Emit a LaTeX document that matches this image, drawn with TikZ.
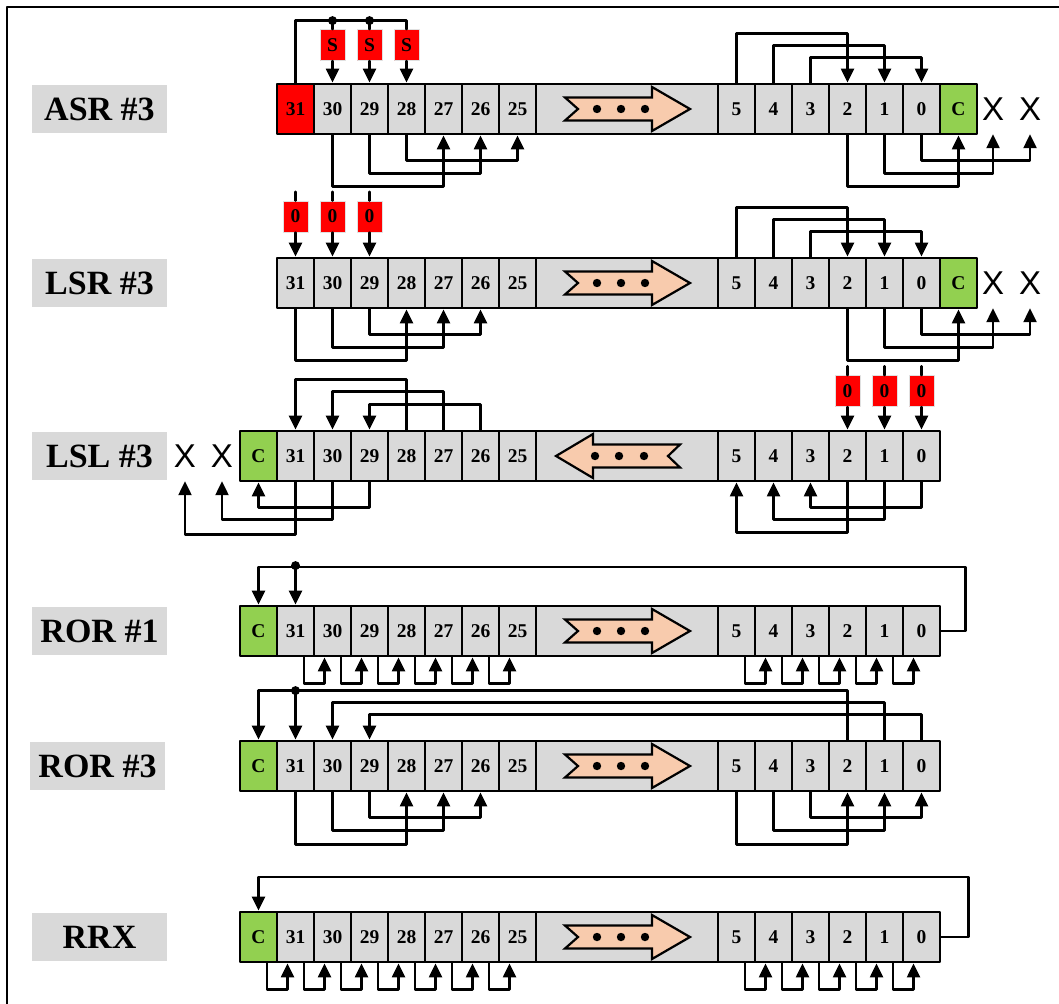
\documentclass[tikz,border=0pt]{standalone}
\usepackage{xcolor}
\usepackage{fontspec}
\setmainfont{Liberation Serif}
\newfontfamily\markfont{Liberation Sans}
\usepackage{tikz}
\usetikzlibrary{
    arrows.meta,
    calc
}
\definecolor{ink}      {HTML}{000000}
\definecolor{cellgrey} {HTML}{D9D9D9}
\definecolor{labelgrey}{HTML}{D9D9D9}
\definecolor{bitred}   {HTML}{FF0000}
\definecolor{carry}    {HTML}{92D050}
\definecolor{peach}    {HTML}{F8CBAD}

\begin{document}
\begin{tikzpicture}[
    x=1pt, y=-1pt,
    line cap=round, line join=round,
    >={Triangle[length=14pt, width=13pt]},
    %% --- semantic styles ---
    cell/.style        = {rectangle, draw=ink, fill=cellgrey, line width=2.8pt,
                          minimum width=37pt, minimum height=50pt, inner sep=0pt,
                          font=\bfseries\fontsize{19.5}{19.5}\selectfont},
    regbar/.style      = {rectangle, draw=ink, fill=cellgrey, line width=1.3pt,
                          minimum width=182pt, minimum height=50pt, inner sep=0pt},
    fillbox/.style     = {rectangle, fill=bitred, draw=black!12, line width=0.8pt,
                          minimum width=25pt, minimum height=31pt, inner sep=0pt,
                          font=\bfseries\fontsize{19.5}{19.5}\selectfont},
    oplabel/.style     = {rectangle, fill=labelgrey, minimum width=135pt,
                          minimum height=48pt, inner sep=0pt,
                          font=\bfseries\fontsize{34}{34}\selectfont},
    lostbit/.style     = {minimum height=50pt, inner sep=0pt,
                          font=\markfont\fontsize{33}{33}\selectfont},
    wire/.style        = {draw=ink, line width=2.3pt},
    flow/.style        = {wire, ->},
    shiftarrow/.style  = {draw=ink, fill=peach, line width=2.2pt, line join=miter}
]
\useasboundingbox (0,0) rectangle (1059,1003);
\clip (0,0) rectangle (1059,1003);
\draw[line width=2pt] (7,1010) -- (7,7) -- (1070,7);

%% =====================================================
%% Registers -- six rows of bit cells
%% =====================================================
\foreach \reg/\yy/\topfill in {asr/109/bitred, lsr/283/cellgrey, lsl/456/cellgrey,
                               rori/631/cellgrey, roriii/766/cellgrey, rrx/937/cellgrey} {
    \node[regbar] (\reg-bar) at (627,\yy) {};
    \node[cell, fill=\topfill] (\reg31) at (295.5,\yy) {31};
    \foreach \k in {30,...,25}
        \node[cell] (\reg\k) at ({295.5+(31-\k)*37},\yy) {\k};
    \foreach \k in {5,...,0}
        \node[cell] (\reg\k) at ({736.5+(5-\k)*37},\yy) {\k};
}

% Operation labels
\node[oplabel] (asr-lbl)    at (99.5,109) {ASR \#3};
\node[oplabel] (lsr-lbl)    at (99.5,283) {LSR \#3};
\node[oplabel] (lsl-lbl)    at (99.5,456) {LSL \#3};
\node[oplabel] (rori-lbl)   at (99.5,631) {ROR \#1};
\node[oplabel] (roriii-lbl) at (97.5,766) {ROR \#3};
\node[oplabel] (rrx-lbl)    at (99.5,937) {RRX};

% Carry flags
\node[cell, fill=carry] (asrC)    at (958.5,109) {C};
\node[cell, fill=carry] (lsrC)    at (958.5,283) {C};
\node[cell, fill=carry] (lslC)    at (258.5,456) {C};
\node[cell, fill=carry] (roriC)   at (258.5,631) {C};
\node[cell, fill=carry] (roriiiC) at (258.5,766) {C};
\node[cell, fill=carry] (rrxC)    at (258.5,937) {C};

% Discarded bits
\node[lostbit] (asr-x1) at (993,109)  {X};
\node[lostbit] (asr-x2) at (1030,109) {X};
\node[lostbit] (lsr-x1) at (993,283)  {X};
\node[lostbit] (lsr-x2) at (1030,283) {X};
\node[lostbit] (lsl-x1) at (185,456)  {X};
\node[lostbit] (lsl-x2) at (222,456)  {X};

% Shift direction arrows
\foreach \reg in {asr, lsr, rori, roriii, rrx} {
    \draw[shiftarrow] ($(\reg-bar.center)+(-62,-11.5)$) -- ++(87,0) -- ++(0,-10.5)
        -- ++(38,22) -- ++(-38,22) -- ++(0,-10.5) -- ++(-87,0) -- ++(13,-11.5) -- cycle;
    \foreach \dx in {-30,-6,18}
        \fill[ink] ($(\reg-bar.center)+(\dx,0)$) circle (4.2pt);
}
\draw[shiftarrow] ($(lsl-bar.center)+(-71,0)$) -- ++(37,-22) -- ++(0,10.5) -- ++(87,0)
    -- ++(-12,11.5) -- ++(12,11.5) -- ++(-87,0) -- ++(0,10.5) -- cycle;
\foreach \dx in {-32,-8,17}
    \fill[ink] ($(lsl-bar.center)+(\dx,0)$) circle (4.2pt);

%% =====================================================
%% ASR #3 -- sign bit copied in
%% =====================================================
\foreach \k in {30,29,28} {
    \node[fillbox] (asrS\k) at ($(asr\k.north)+(0,-37.5)$) {S};
    \draw[flow] (asrS\k) -- (asr\k.north);
}
\coordinate (asr-top) at ($(asr31.north)+(0,-62)$);
\draw[wire] (asr31.north) -- (asr-top) -| (asrS28.north);
\foreach \k in {30,29} {
    \fill[ink] (asr-top -| asrS\k.north) circle (4.5pt);
    \draw[wire] (asr-top -| asrS\k.north) -- (asrS\k.north);
}
\foreach \a/\b/\d in {30/27/51, 29/26/38, 28/25/25}
    \draw[flow] (asr\a.south) -- ++(0,\d) -| (asr\b.south);

%% =====================================================
%% LSR #3 -- zeros shifted in
%% =====================================================
\foreach \k in {31,30,29} {
    \node[fillbox] (lsrZ\k) at ($(lsr\k.north)+(0,-40)$) {0};
    \draw[wire] ($(lsrZ\k.north)+(0,-9)$) -- (lsrZ\k.north);
    \draw[flow] (lsrZ\k) -- (lsr\k.north);
}
\foreach \a/\b/\d in {31/28/51, 30/27/38, 29/26/25}
    \draw[flow] (lsr\a.south) -- ++(0,\d) -| (lsr\b.south);

% Right ends of ASR and LSR: low bits move down, last ones fall out
\foreach \reg in {asr, lsr} {
    \foreach \a/\b/\d in {5/2/49, 4/1/37, 3/0/25}
        \draw[flow] (\reg\a.north) -- ++(0,-\d) -| (\reg\b.north);
    \foreach \a/\b/\d in {2/C/51, 1/-x1/38, 0/-x2/25}
        \draw[flow] (\reg\a.south) -- ++(0,\d) -| (\reg\b.south);
}

%% =====================================================
%% LSL #3
%% =====================================================
\foreach \a/\b/\d in {28/31/50, 27/30/38, 26/29/25}
    \draw[flow] (lsl\a.north) -- ++(0,-\d) -| (lsl\b.north);
\foreach \a/\b/\d in {29/C/25, 30/-x2/37, 31/-x1/52}
    \draw[flow] (lsl\a.south) -- ++(0,\d) -| (lsl\b.south);
\foreach \k in {2,1,0} {
    \node[fillbox] (lslZ\k) at ($(lsl\k.north)+(0,-38.5)$) {0};
    \draw[wire] ($(lslZ\k.north)+(0,-9)$) -- (lslZ\k.north);
    \draw[flow] (lslZ\k) -- (lsl\k.north);
}
\foreach \a/\b/\d in {0/3/25, 1/4/37, 2/5/50}
    \draw[flow] (lsl\a.south) -- ++(0,\d) -| (lsl\b.south);

%% =====================================================
%% ROR #1
%% =====================================================
\draw[flow] (rori0.east) -| ++(24,-64) -| (roriC.north);
\coordinate (rori-top) at ($(rori31.north)+(0,-39)$);
\fill[ink] (rori-top) circle (4.5pt);
\draw[flow] (rori-top) -- (rori31.north);
\foreach \a/\b in {31/30, 30/29, 29/28, 28/27, 27/26, 26/25, 5/4, 4/3, 3/2, 2/1, 1/0}
    \draw[flow] ($(rori\a.south)+(8.5,0)$) -- ++(0,26) -| ($(rori\b.south)+(-8,0)$);

%% =====================================================
%% ROR #3
%% =====================================================
\foreach \a/\b/\d in {2/C/49, 1/30/37, 0/29/25}
    \draw[flow] (roriii\a.north) -- ++(0,-\d) -| (roriii\b.north);
\coordinate (roriii-top) at ($(roriii31.north)+(0,-49)$);
\fill[ink] (roriii-top) circle (4.5pt);
\draw[flow] (roriii-top) -- (roriii31.north);
\foreach \a/\b/\d in {31/28/52, 30/27/38, 29/26/25, 5/2/52, 4/1/38, 3/0/25}
    \draw[flow] (roriii\a.south) -- ++(0,\d) -| (roriii\b.south);

%% =====================================================
%% RRX -- rotate through carry
%% =====================================================
\draw[flow] (rrx0.east) -| ++(27,-60) -| (rrxC.north);
\foreach \a/\b in {C/31, 31/30, 30/29, 29/28, 28/27, 27/26, 26/25, 5/4, 4/3, 3/2, 2/1, 1/0}
    \draw[flow] ($(rrx\a.south)+(8.5,0)$) -- ++(0,26) -| ($(rrx\b.south)+(-8,0)$);

\end{tikzpicture}
\end{document}
